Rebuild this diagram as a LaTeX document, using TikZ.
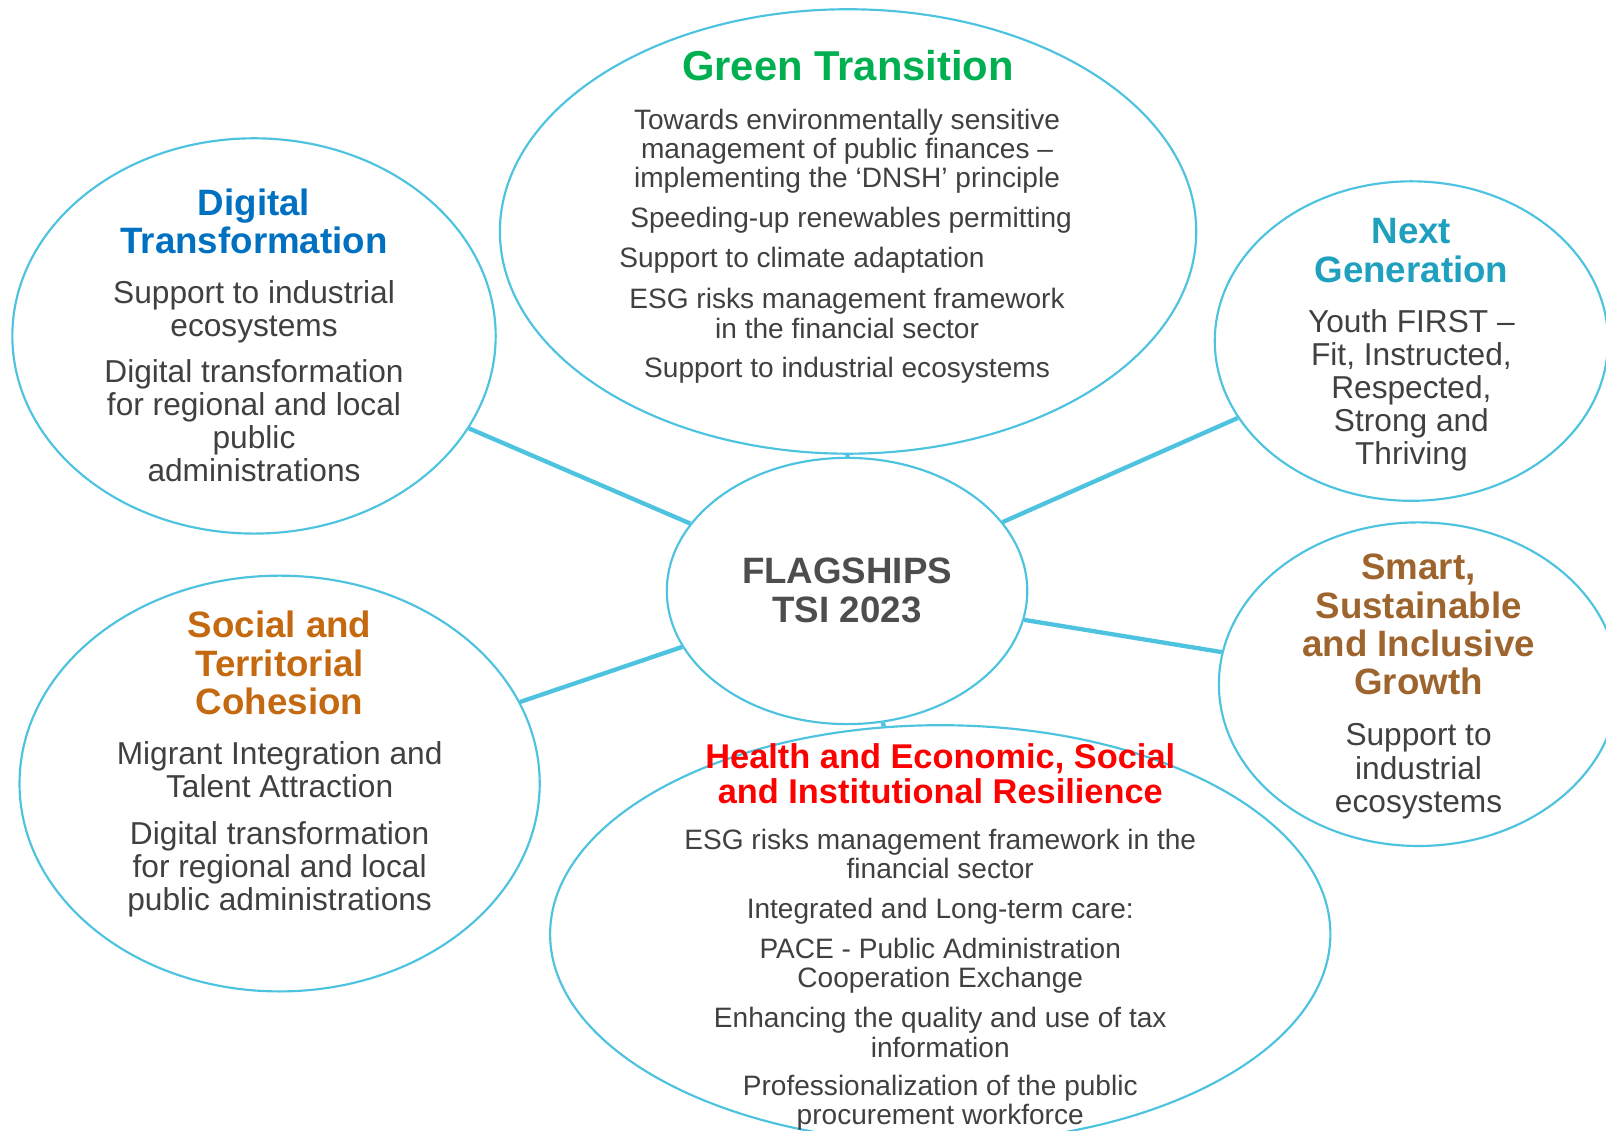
\documentclass[tikz,border=0pt]{standalone}
\usepackage{fontspec}
\setmainfont{Liberation Sans}
\usetikzlibrary{shapes.geometric}

\definecolor{rim}{RGB}{77,195,223}
\definecolor{txtgray}{RGB}{64,64,64}
\definecolor{hubgray}{RGB}{77,77,77}
\definecolor{greentr}{RGB}{0,176,80}
\definecolor{digiblue}{RGB}{0,112,192}
\definecolor{nextteal}{RGB}{30,160,190}
\definecolor{smartbrown}{RGB}{158,100,46}
\definecolor{socialorange}{RGB}{197,105,16}
\definecolor{healthred}{RGB}{255,0,0}

\begin{document}
\begin{tikzpicture}[x=0.02cm, y=-0.02cm,
    bubble/.style={draw=rim, line width=1.2pt, ellipse, inner sep=0pt},
    link/.style={draw=rim, line width=2.4pt},
    head/.style={font=\bfseries\fontsize{20.4}{21.3}\selectfont, align=center, inner sep=0pt},
    body/.style={font=\fontsize{17.6}{18.4}\selectfont, text=txtgray, align=center, inner sep=0pt, yshift=-0.07cm},
    small/.style={font=\fontsize{15.6}{16.2}\selectfont, text=txtgray, align=center, inner sep=0pt, yshift=-0.06cm}]
    \useasboundingbox (0,0) rectangle (1568,1104);
    \clip (0,0) rectangle (1568,1104);

    % bubbles
    \node[bubble, minimum width=13.6cm, minimum height=8.68cm] (green) at (828,226) {};
    \node[bubble, minimum width=9.44cm, minimum height=7.72cm] (digi) at (248,328) {};
    \node[bubble, minimum width=7.68cm, minimum height=6.24cm] (nextgen) at (1378,333) {};
    \node[bubble, minimum width=7.8cm, minimum height=6.32cm] (smart) at (1385,668) {};
    \node[bubble, minimum width=10.16cm, minimum height=8.12cm] (social) at (273,765) {};
    \node[bubble, minimum width=15.24cm, minimum height=8.16cm] (health) at (918,912) {};
    \node[bubble, minimum width=7.04cm, minimum height=5.2cm] (hub) at (827,577) {};

    \draw[link] (hub) -- (green);
    \draw[link] (hub) -- (digi);
    \draw[link] (hub) -- (nextgen);
    \draw[link] (hub) -- (smart);
    \draw[link] (hub) -- (social);
    \draw[link] (hub) -- (health);

    % centre
    \node[head, text=hubgray, font=\bfseries\fontsize{20.4}{21.6}\selectfont] (hubtxt) at (827,576) {FLAGSHIPS\\TSI 2023};

    % green transition
    \node[head, text=greentr, font=\bfseries\fontsize{23.2}{24}\selectfont] (greentitle) at (828,64) {Green Transition};
    \node[small] (greenone) at (827,144.5) {Towards environmentally sensitive\\management of public finances --\\implementing the ‘DNSH’ principle};
    \node[small] (greentwo) at (831,212) {Speeding-up renewables permitting};
    \node[small] (greenthree) at (783,251) {Support to climate adaptation};
    \node[small] (greenfour) at (827,303) {ESG risks management framework\\in the financial sector};
    \node[small] (greenfive) at (827,358) {Support to industrial ecosystems};

    % digital transformation
    \node[head, text=digiblue] (digititle) at (248,216) {Digital\\Transformation};
    \node[body] (digione) at (248,301) {Support to industrial\\ecosystems};
    \node[body] (digitwo) at (248,407.5) {Digital transformation\\for regional and local\\public\\administrations};

    % next generation
    \node[head, text=nextteal] (nexttitle) at (1378,244.5) {Next\\Generation};
    \node[body] (nextone) at (1378,377.5) {Youth FIRST --\\Fit, Instructed,\\Respected,\\Strong and\\Thriving};

    % smart growth
    \node[head, text=smartbrown] (smarttitle) at (1385,610) {Smart,\\Sustainable\\and Inclusive\\Growth};
    \node[body] (smartone) at (1385,749.5) {Support to\\industrial\\ecosystems};

    % social cohesion
    \node[head, text=socialorange] (socialtitle) at (273,647.5) {Social and\\Territorial\\Cohesion};
    \node[body] (socialone) at (273,748) {Migrant Integration and\\Talent Attraction};
    \node[body] (socialtwo) at (273,845) {Digital transformation\\for regional and local\\public administrations};

    % health and resilience
    \node[head, text=healthred, font=\bfseries\fontsize{19.1}{19.8}\selectfont] (healthtitle) at (918,755.5) {Health and Economic, Social\\and Institutional Resilience};
    \node[small] (healthone) at (918,831) {ESG risks management framework in the\\financial sector};
    \node[small] (healthtwo) at (918,887) {Integrated and Long-term care:};
    \node[small] (healththree) at (918,940) {PACE - Public Administration\\Cooperation Exchange};
    \node[small] (healthfour) at (918,1005) {Enhancing the quality and use of tax\\information};
    \node[small] (healthfive) at (918,1074) {Professionalization of the public\\procurement workforce};
\end{tikzpicture}
\end{document}
